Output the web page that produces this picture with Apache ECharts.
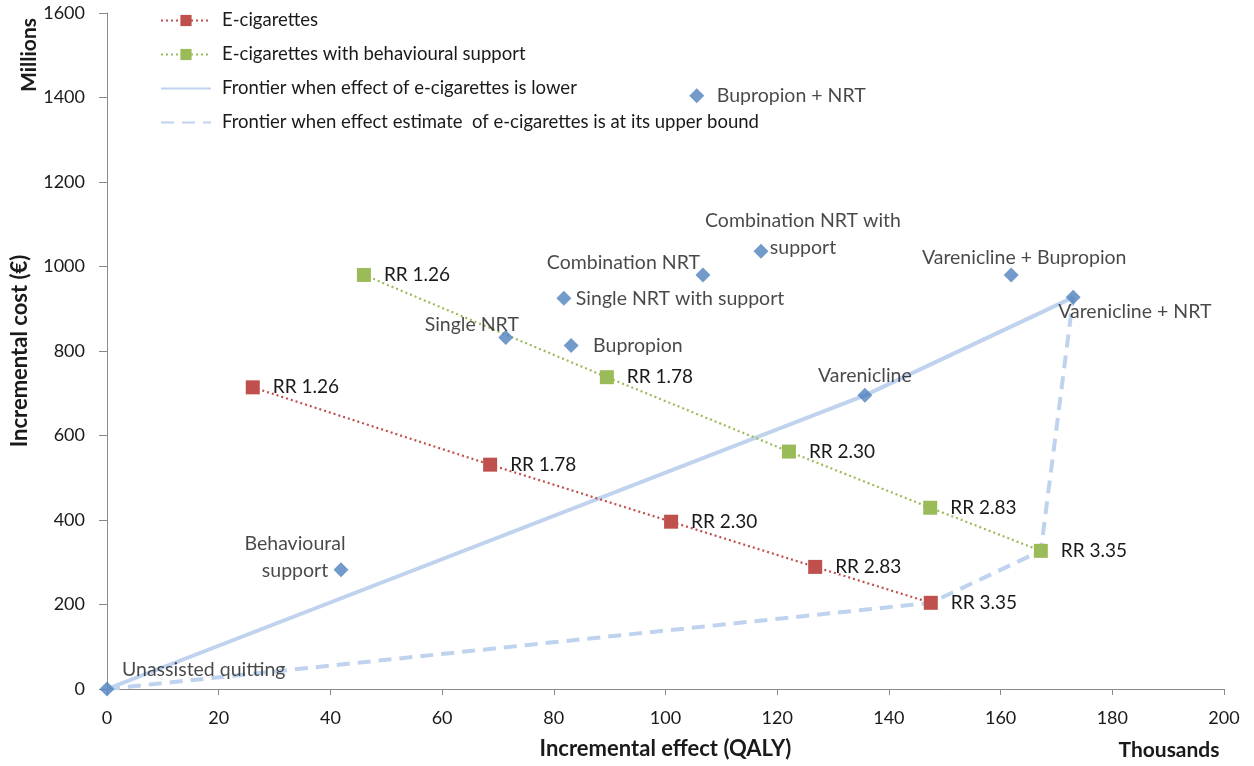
<!DOCTYPE html>
<html>
<head>
<meta charset="utf-8">
<title>Incremental cost-effectiveness of smoking cessation options</title>
<script src="https://cdn.jsdelivr.net/npm/echarts@6/dist/echarts.min.js"></script>
<style>
  html, body { margin: 0; padding: 0; background: #fff; }
  #chart { width: 1254px; height: 766px; }
</style>
</head>
<body>
<div id="chart"></div>
<script>
// Cessation therapies: incremental effect (thousand QALY) and incremental cost (million €)
const therapyNames = [
  'Unassisted quitting', 'Behavioural\nsupport', 'Single NRT', 'Bupropion',
  'Single NRT with support', 'Combination NRT', 'Combination NRT with\nsupport',
  'Bupropion + NRT', 'Varenicline', 'Varenicline + Bupropion', 'Varenicline + NRT'
];
const therapyEffect = [0, 41.9, 71.4, 83.1, 81.8, 106.7, 117.1, 105.6, 135.7, 161.9, 173.0];
const therapyCost   = [0, 282, 832, 813, 925, 980, 1036, 1404, 695, 980, 927];

// E-cigarette scenarios by relative risk of quitting
const rrLabels = ['RR 1.26', 'RR 1.78', 'RR 2.30', 'RR 2.83', 'RR 3.35'];
const ecigEffect = [26.1, 68.6, 101.0, 126.8, 147.5];
const ecigCost   = [714, 531, 396, 289, 204];
const ecigSupportEffect = [46.0, 89.5, 122.1, 147.4, 167.2];
const ecigSupportCost   = [980, 738, 562, 429, 327];

// Axis ranges and ticks
const xMin = 0, xMax = 200, xStep = 20;
const yMin = 0, yMax = 1600, yStep = 200;

const FONT = 'Lato, "Open Sans", sans-serif';
const TEXT = '#1a1a1a';

// Label placement for each therapy marker (offset from marker centre)
const therapyLabelPlacement = {
  'Unassisted quitting': { align: 'left', offset: [15, -19] },
  'Behavioural\nsupport': { align: 'center', offset: [-46, -13] },
  'Single NRT': { align: 'center', offset: [-34, -13] },
  'Bupropion': { align: 'left', offset: [22, 0] },
  'Single NRT with support': { align: 'left', offset: [12, 1] },
  'Combination NRT': { align: 'right', offset: [-3, -12] },
  'Combination NRT with\nsupport': { align: 'center', offset: [42, -17] },
  'Bupropion + NRT': { align: 'left', offset: [20, 0] },
  'Varenicline': { align: 'center', offset: [0, -20] },
  'Varenicline + Bupropion': { align: 'center', offset: [13, -17] },
  'Varenicline + NRT': { align: 'left', offset: [-15, 14] }
};

const pointOf = name => {
  const i = therapyNames.indexOf(name);
  return [therapyEffect[i], therapyCost[i]];
};
const last = arr => arr[arr.length - 1];

// Efficiency frontiers
const frontierLower = [
  pointOf('Unassisted quitting'),
  pointOf('Varenicline'),
  pointOf('Varenicline + NRT')
];
const frontierUpper = [
  pointOf('Unassisted quitting'),
  [last(ecigEffect), last(ecigCost)],
  [last(ecigSupportEffect), last(ecigSupportCost)],
  pointOf('Varenicline + NRT')
];

const therapyData = therapyNames.map((n, i) => {
  const p = therapyLabelPlacement[n];
  return {
    name: n,
    value: [therapyEffect[i], therapyCost[i]],
    label: {
      show: true, position: 'inside', align: p.align, verticalAlign: 'middle',
      offset: p.offset, formatter: '{b}', lineHeight: 27
    }
  };
});

const rrSeriesData = (xs, ys) => xs.map((x, i) => ({ name: rrLabels[i], value: [x, ys[i]] }));

const labelText = { color: TEXT, fontFamily: FONT, fontSize: 19 };
const FRONTIER = '#bfd3ee';

const LEGEND_NAMES = [
  'E-cigarettes',
  'E-cigarettes with behavioural support',
  'Frontier when effect of e-cigarettes is lower',
  'Frontier when effect estimate  of e-cigarettes is at its upper bound'
];

const chart = echarts.init(document.getElementById('chart'), null, { renderer: 'canvas' });
chart.setOption({
  animation: false,
  backgroundColor: '#ffffff',
  textStyle: { fontFamily: FONT },
  grid: { left: 107, right: 30, top: 13, bottom: 77, containLabel: false, outerBoundsMode: 'none' },
  legend: {
    orient: 'vertical', left: 155, top: 6,
    itemWidth: 50, itemHeight: 14, itemGap: 15,
    textStyle: { color: TEXT, fontFamily: FONT, fontSize: 18.5, padding: [0, 0, 0, 6] },
    data: [
      { name: LEGEND_NAMES[0] },
      { name: LEGEND_NAMES[1] },
      { name: LEGEND_NAMES[2], itemStyle: { opacity: 0 } },
      { name: LEGEND_NAMES[3], itemStyle: { opacity: 0 } }
    ]
  },
  xAxis: {
    type: 'value', min: xMin, max: xMax, interval: xStep,
    name: 'Incremental effect (QALY)', nameLocation: 'middle', nameGap: 49,
    nameTextStyle: { color: TEXT, fontFamily: FONT, fontSize: 22, fontWeight: 'bold' },
    axisLine: { show: true, lineStyle: { color: '#8a8a8a', width: 1 } },
    axisTick: { show: true, length: 6, lineStyle: { color: '#8a8a8a' } },
    axisLabel: { color: TEXT, fontFamily: FONT, fontSize: 18, margin: 20 },
    splitLine: { show: false }
  },
  yAxis: {
    type: 'value', min: yMin, max: yMax, interval: yStep,
    name: 'Incremental cost (€)', nameLocation: 'middle', nameGap: 76, nameRotate: 90,
    nameTextStyle: { color: TEXT, fontFamily: FONT, fontSize: 22, fontWeight: 'bold' },
    axisLine: { show: true, lineStyle: { color: '#8a8a8a', width: 1 } },
    axisTick: { show: true, length: 8, lineStyle: { color: '#8a8a8a' } },
    axisLabel: { color: TEXT, fontFamily: FONT, fontSize: 18, margin: 22, formatter: v => String(v) },
    splitLine: { show: false }
  },
  graphic: [
    {
      type: 'text', x: 29, y: 55, rotation: Math.PI / 2,
      style: { text: 'Millions', fill: TEXT, font: 'bold 21px ' + FONT, align: 'center', verticalAlign: 'middle' }
    },
    {
      type: 'text', x: 1169, y: 750,
      style: { text: 'Thousands', fill: TEXT, font: 'bold 21px ' + FONT, align: 'center', verticalAlign: 'middle' }
    }
  ],
  series: [
    {
      name: LEGEND_NAMES[2],
      type: 'line', data: frontierLower, symbol: 'none', z: 1,
      lineStyle: { color: FRONTIER, width: 4 },
      itemStyle: { color: FRONTIER, opacity: 0 }
    },
    {
      name: LEGEND_NAMES[3],
      type: 'line', data: frontierUpper, symbol: 'none', z: 1,
      lineStyle: { color: FRONTIER, width: 4, type: [13, 8] },
      itemStyle: { color: FRONTIER, opacity: 0 }
    },
    {
      name: LEGEND_NAMES[0],
      type: 'line', data: rrSeriesData(ecigEffect, ecigCost),
      symbol: 'rect', symbolSize: 14, z: 3,
      lineStyle: { color: '#c0504d', width: 2.2, type: [2, 3] },
      itemStyle: { color: '#c0504d' },
      label: Object.assign({ show: true, position: 'right', distance: 13, formatter: '{b}' }, labelText)
    },
    {
      name: LEGEND_NAMES[1],
      type: 'line', data: rrSeriesData(ecigSupportEffect, ecigSupportCost),
      symbol: 'rect', symbolSize: 14, z: 3,
      lineStyle: { color: '#9bbb59', width: 2.2, type: [2, 3] },
      itemStyle: { color: '#9bbb59' },
      label: Object.assign({ show: true, position: 'right', distance: 13, formatter: '{b}' }, labelText)
    },
    {
      name: 'Therapies',
      type: 'scatter', data: therapyData,
      symbol: 'diamond', symbolSize: [15, 15], z: 4,
      itemStyle: { color: '#4f81bd' },
      label: Object.assign({}, labelText, { fontSize: 19.5 })
    }
  ]
});
</script>
</body>
</html>
